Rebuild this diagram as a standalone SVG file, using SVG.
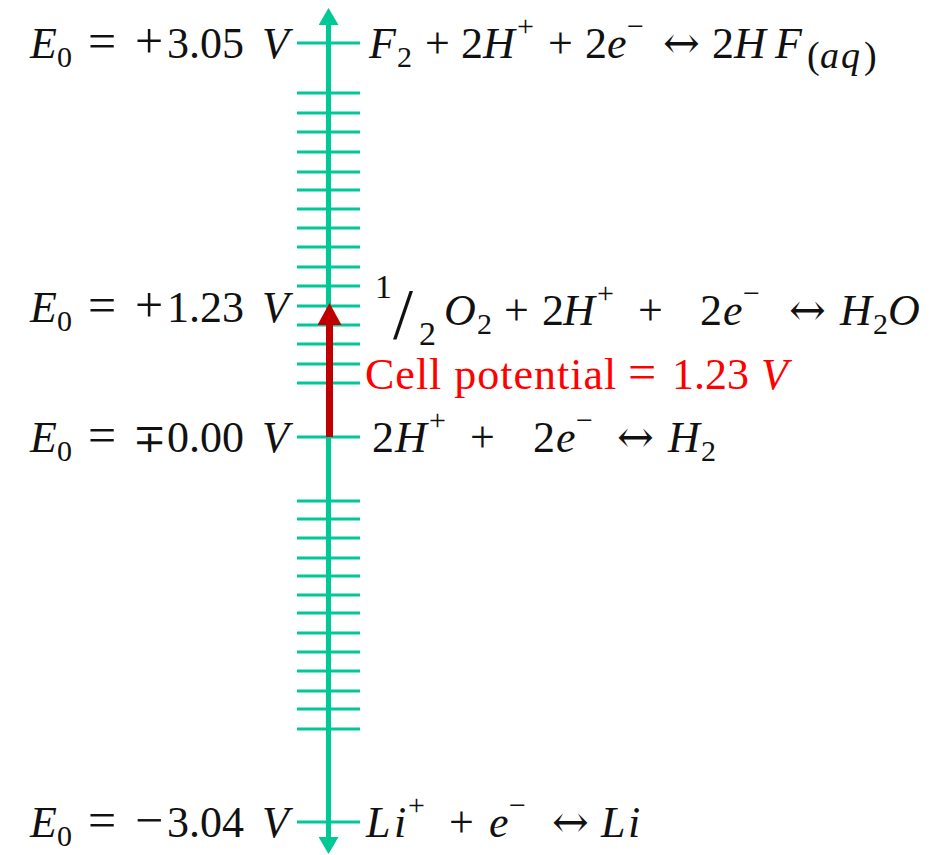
<svg xmlns="http://www.w3.org/2000/svg" width="932" height="855" viewBox="0 0 932 855">
<style>
.t{font-family:'Liberation Serif','DejaVu Serif',serif;font-size:44px;fill:#111}
.i{font-style:italic}
.s{font-size:30px}
.sa{font-size:38px}
.sl{font-size:72px}
.fr{font-size:34px}
.op{font-size:50px}
.ar{font-family:'DejaVu Serif',serif;font-size:44px}
.mp{font-family:'DejaVu Serif',serif;font-size:40px}
.red{fill:#ff0000}
.axis{stroke:#00c896;stroke-width:5;fill:none}
.tick{stroke:#00c896;stroke-width:3;fill:none}
.cell{stroke:#c00000;stroke-width:7;fill:none}
</style>
<defs>
<marker id="ga" markerUnits="userSpaceOnUse" markerWidth="17" markerHeight="20" refX="0" refY="10" orient="auto-start-reverse" viewBox="0 0 17 20">
<path d="M0,0 L17,10 L0,20 z" fill="#00c896"/>
</marker>
<marker id="ra" markerUnits="userSpaceOnUse" markerWidth="22" markerHeight="24" refX="0" refY="12" orient="auto" viewBox="0 0 22 24">
<path d="M0,0 L22,12 L0,24 z" fill="#c00000"/>
</marker>
</defs>

<g id="connectors">
<path class="tick" d="M297,43H360M297,93H360M297,113H360M297,132H360M297,152H360M297,172H360M297,190H360M297,209H360M297,228H360M297,247H360M297,267H360M297,286H360M297,306H360M297,325H360M297,344H360M297,364H360M297,383H360M297,437H360M297,501H360M297,519H360M297,538H360M297,558H360M297,576H360M297,595H360M297,613H360M297,633H360M297,652H360M297,671H360M297,691H360M297,709H360M297,729H360M297,822H360"/>
<path id="axis" class="axis" d="M328.5,25 V837" marker-start="url(#ga)" marker-end="url(#ga)"/>
<path id="cell-arrow" class="cell" d="M329.5,437 V325" marker-end="url(#ra)"/>
</g>

<g id="level-f2">
<text class="t" y="58"><tspan class="i" x="30">E</tspan><tspan class="s" x="57" y="67">0</tspan> <tspan class="op" x="88" y="58">=</tspan> <tspan class="op" x="135">+</tspan><tspan x="167">3.05</tspan> <tspan class="i" x="262">V</tspan></text>
<text class="t" y="58"><tspan class="i" x="369">F</tspan><tspan class="s" x="397" y="67">2</tspan> <tspan x="425" y="58">+</tspan> <tspan x="461">2</tspan><tspan class="i" x="483">H</tspan><tspan class="s" x="517" y="36">+</tspan> <tspan x="548" y="58">+</tspan> <tspan x="585">2</tspan><tspan class="i" x="607">e</tspan><tspan class="s" x="627" y="36">−</tspan> <tspan class="ar" x="663" y="58">↔</tspan> <tspan x="712">2</tspan><tspan class="i" x="734">H</tspan><tspan class="i" x="775">F</tspan><tspan class="sa" x="807" y="68">(</tspan><tspan class="sa i" x="820 841" y="68">aq</tspan><tspan class="sa" x="864" y="68">)</tspan></text>
</g>

<g id="level-o2">
<text class="t" y="322"><tspan class="i" x="30">E</tspan><tspan class="s" x="57" y="331">0</tspan> <tspan class="op" x="88" y="322">=</tspan> <tspan class="op" x="135">+</tspan><tspan x="167">1.23</tspan> <tspan class="i" x="262">V</tspan></text>
<text class="t" y="325"><tspan class="fr" x="375" y="298">1</tspan><tspan class="sl" x="393" y="338">/</tspan><tspan class="fr" x="419" y="345">2</tspan> <tspan class="i" x="444" y="325">O</tspan><tspan class="s" x="477" y="334">2</tspan> <tspan x="504" y="325">+</tspan> <tspan x="542">2</tspan><tspan class="i" x="563">H</tspan><tspan class="s" x="597" y="303">+</tspan> <tspan x="638" y="325">+</tspan>  <tspan x="700">2</tspan><tspan class="i" x="723">e</tspan><tspan class="s" x="743" y="303">−</tspan> <tspan class="ar" x="789" y="325">↔</tspan> <tspan class="i" x="840">H</tspan><tspan class="s" x="873" y="334">2</tspan><tspan class="i" x="888" y="325">O</tspan></text>
</g>

<g id="cell-potential">
<text class="t red" y="389"><tspan x="365" letter-spacing="1">Cell potential</tspan> <tspan class="op" x="628">=</tspan> <tspan x="672">1.23</tspan> <tspan class="i" x="761">V</tspan></text>
</g>

<g id="level-h2">
<text class="t" y="452"><tspan class="i" x="30">E</tspan><tspan class="s" x="57" y="461">0</tspan> <tspan class="op" x="88" y="452">=</tspan> <tspan class="mp" x="133">∓</tspan><tspan x="167">0.00</tspan> <tspan class="i" x="262">V</tspan></text>
<text class="t" y="452"><tspan x="372">2</tspan><tspan class="i" x="395">H</tspan><tspan class="s" x="429" y="430">+</tspan> <tspan x="470" y="452">+</tspan>  <tspan x="533">2</tspan><tspan class="i" x="556">e</tspan><tspan class="s" x="576" y="430">−</tspan> <tspan class="ar" x="617" y="452">↔</tspan> <tspan class="i" x="668">H</tspan><tspan class="s" x="701" y="461">2</tspan></text>
</g>

<g id="level-li">
<text class="t" y="837"><tspan class="i" x="30">E</tspan><tspan class="s" x="57" y="846">0</tspan> <tspan class="op" x="88" y="837">=</tspan> <tspan class="op" x="135">−</tspan><tspan x="167">3.04</tspan> <tspan class="i" x="262">V</tspan></text>
<text class="t" y="837"><tspan class="i" x="366">L</tspan><tspan class="i" x="394">i</tspan><tspan class="s" x="408" y="815">+</tspan> <tspan x="449" y="837">+</tspan> <tspan class="i" x="489">e</tspan><tspan class="s" x="509" y="815">−</tspan> <tspan class="ar" x="552" y="837">↔</tspan> <tspan class="i" x="601">L</tspan><tspan class="i" x="628">i</tspan></text>
</g>
</svg>
